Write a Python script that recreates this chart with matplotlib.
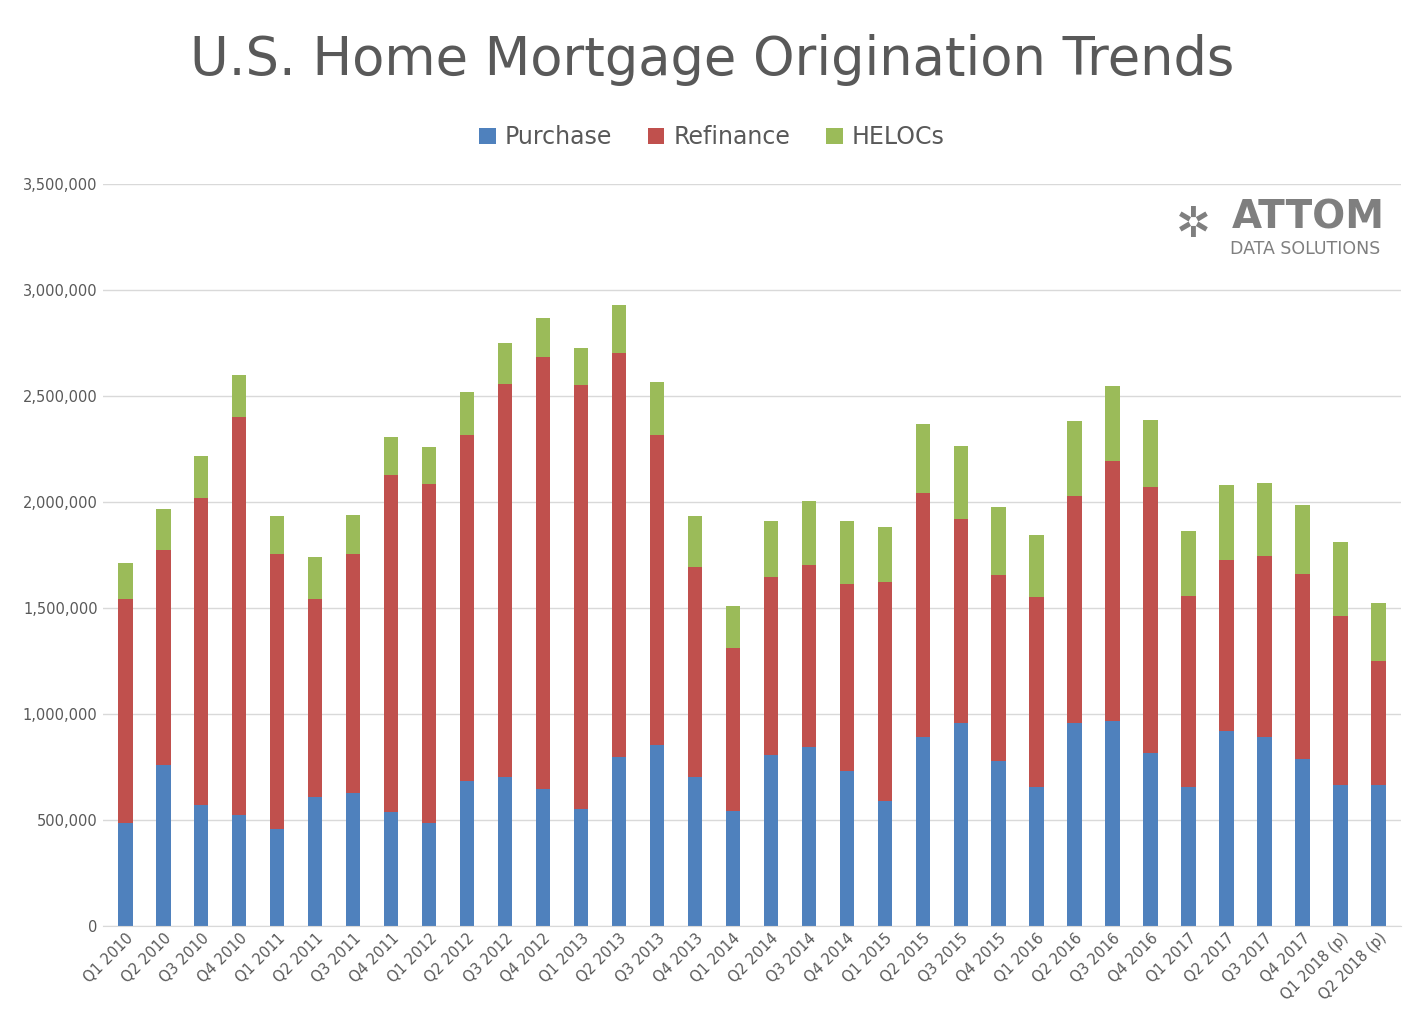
import matplotlib
matplotlib.use("Agg")
import matplotlib.pyplot as plt
import numpy as np

QUARTERS = ["Q1 2010", "Q2 2010", "Q3 2010", "Q4 2010", "Q1 2011", "Q2 2011", "Q3 2011", "Q4 2011",
            "Q1 2012", "Q2 2012", "Q3 2012", "Q4 2012", "Q1 2013", "Q2 2013", "Q3 2013", "Q4 2013",
            "Q1 2014", "Q2 2014", "Q3 2014", "Q4 2014", "Q1 2015", "Q2 2015", "Q3 2015", "Q4 2015",
            "Q1 2016", "Q2 2016", "Q3 2016", "Q4 2016", "Q1 2017", "Q2 2017", "Q3 2017", "Q4 2017",
            "Q1 2018 (p)", "Q2 2018 (p)"]

# cumulative tops (thousands)
purchase = [486, 760, 571, 524, 458, 608, 627, 538, 486, 684, 703, 646, 552, 797, 854, 703,
            542, 807, 844, 731, 590, 892, 958, 778, 656, 958, 967, 816, 656, 920, 892, 788, 665, 665]
refi_top = [1542, 1773, 2020, 2401, 1755, 1542, 1755, 2127, 2085, 2316, 2557, 2684, 2552, 2703, 2316, 1693,
            1311, 1646, 1703, 1613, 1623, 2042, 1920, 1656, 1552, 2028, 2193, 2071, 1557, 1726, 1745, 1660, 1462, 1250]
heloc_top = [1712, 1967, 2217, 2599, 1934, 1741, 1939, 2307, 2259, 2519, 2750, 2868, 2726, 2929, 2566, 1934,
             1509, 1910, 2005, 1910, 1882, 2368, 2264, 1976, 1844, 2382, 2547, 2387, 1863, 2080, 2090, 1986, 1811, 1524]

purchase = np.array(purchase) * 1000
refinance = np.array(refi_top) * 1000 - purchase
helocs = np.array(heloc_top) * 1000 - np.array(refi_top) * 1000

fig = plt.figure(figsize=(14.24, 10.33), dpi=100)
ax = fig.add_axes([0.072, 0.104, 0.912, 0.718])
x = np.arange(len(QUARTERS))
w = 0.38
ax.bar(x, purchase, w, color="#4F81BD", label="Purchase")
ax.bar(x, refinance, w, bottom=purchase, color="#C0504D", label="Refinance")
ax.bar(x, helocs, w, bottom=purchase + refinance, color="#9BBB59", label="HELOCs")

ax.set_ylim(0, 3500000)
ax.set_xlim(-0.6, len(QUARTERS) - 0.4)
ax.set_yticks(np.arange(0, 3500001, 500000))
ax.set_yticklabels([f"{int(v):,}" for v in ax.get_yticks()], fontsize=10.5, color="#595959")
ax.set_xticks(x)
ax.set_xticklabels(QUARTERS, rotation=45, ha="right", rotation_mode="anchor", fontsize=10.5, color="#595959")
ax.grid(axis="y", color="#D9D9D9", linewidth=1)
ax.set_axisbelow(True)
for s in ["top", "right", "left"]:
    ax.spines[s].set_visible(False)
ax.spines["bottom"].set_color("#D9D9D9")
ax.tick_params(length=0)

fig.text(0.5, 0.942, "U.S. Home Mortgage Origination Trends", ha="center", va="center",
         fontsize=38, color="#595959")
fig.legend(loc="center", bbox_to_anchor=(0.5, 0.867), ncol=3, frameon=False, fontsize=17,
           handlelength=0.7, handleheight=0.7, columnspacing=1.5, handletextpad=0.4,
           labelcolor="#595959")

# logo
fig.text(0.865, 0.789, "ATTOM", fontsize=28, fontweight="bold", color="#7F7F7F", ha="left", va="center")
fig.text(0.864, 0.759, "DATA SOLUTIONS", fontsize=12.5, color="#7F7F7F", ha="left", va="center")
fig.text(0.838, 0.782, "✲", fontsize=30, color="#7F7F7F", ha="center", va="center")

fig.savefig("out.png", dpi=100)
